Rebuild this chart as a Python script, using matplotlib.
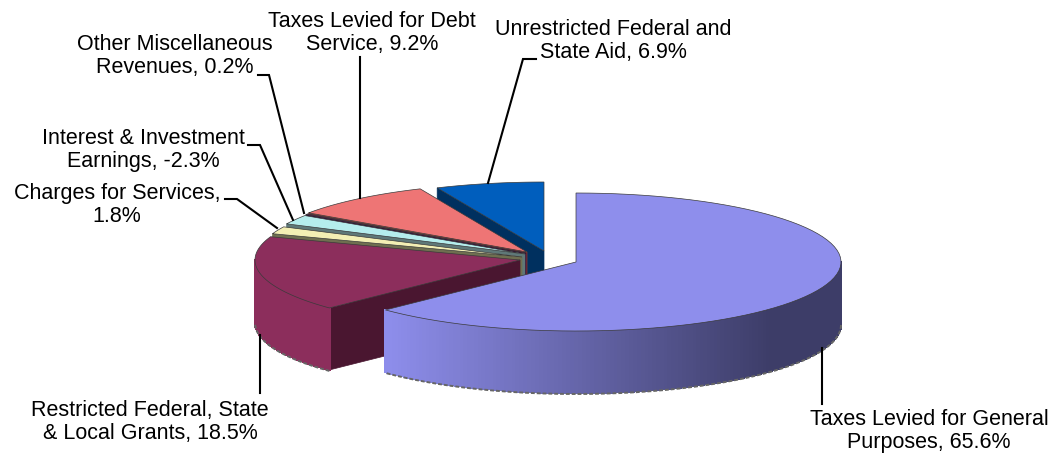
import matplotlib
matplotlib.use("Agg")
import matplotlib.pyplot as plt
import numpy as np
from matplotlib.colors import to_rgb

plt.rcParams["font.family"] = ["Liberation Sans", "DejaVu Sans"]

# chart data, clockwise from 12 o'clock
CATEGORIES = [
    "Taxes Levied for General\nPurposes",
    "Restricted Federal, State\n& Local Grants",
    "Charges for Services,\n",
    "Interest & Investment\nEarnings",
    "Other Miscellaneous\nRevenues",
    "Taxes Levied for Debt\nService",
    "Unrestricted Federal and\nState Aid",
]
VALUES = [65.6, 18.5, 1.8, -2.3, 0.2, 9.2, 6.9]

# styling per slice
TOP_COLORS = ["#8E8EEC", "#8C2E5C", "#F3EFB4", "#B5EDED", "#5A0A5A", "#EE7575", "#005EBD"]
WALL_COLORS = ["#3D3D68", "#4A1630", "#6F6F50", "#5F7878", "#300030", "#8A3A30", "#00305F"]
APEX_X = [576, 520, 522, 525, 526, 527, 544]
APEX_Y = [262, 260, 257, 254, 253, 252, 251]
LABEL_X = [929, 150, 117, 143, 175, 372, 613]
LABEL_Y = [431, 422, 205, 150, 56, 33, 41]
LEADERS = [
    [(822, 348), (822, 404)],
    [(260, 335), (260, 393)],
    [(225, 199), (237, 199), (277, 228)],
    [(248, 145), (260, 145), (293, 220)],
    [(258, 75), (269, 75), (304, 213)],
    [(360, 57), (360, 198)],
    [(488, 183), (523, 59), (536, 59)],
]

RX = 265
RY = 69
DEPTH = 62


def ellipse_pts(cx, cy, start, stop, n=80):
    # angles in degrees, clockwise from the top of the pie
    a = np.radians(np.linspace(start, stop, n))
    return cx + RX * np.sin(a), cy - RY * np.cos(a)


def idx_z(idx):
    # painter's order: back slices first, main slice last
    return 10 + (len(VALUES) - idx) * 2


def draw_outer_wall(ax, cx, cy, start, stop, idx):
    # only the front half of the rim can be seen
    lo, hi = max(start, 90), min(stop, 270)
    if lo >= hi:
        return
    x, y = ellipse_pts(cx, cy, lo, hi, 160)
    light = np.array(to_rgb(TOP_COLORS[0]))
    dark = np.array(to_rgb(WALL_COLORS[0]))
    for i in range(len(x) - 1):
        if idx == 0:
            t = min(max((x[i] - 385) / 385, 0), 1)
            color = light + (dark - light) * t
        else:
            color = TOP_COLORS[idx]
        ax.fill([x[i], x[i + 1], x[i + 1], x[i]],
                [y[i], y[i + 1], y[i + 1] + DEPTH, y[i] + DEPTH],
                color=color, lw=1, antialiased=False, zorder=idx_z(idx))
    ax.plot(x, y + DEPTH + 1, color="#666666", lw=1.4, dashes=(2, 1), zorder=idx_z(idx))


fig = plt.figure(figsize=(10.56, 4.55), dpi=100)
ax = fig.add_axes([0, 0, 1, 1])
ax.set_xlim(0, 1056)
ax.set_ylim(455, 0)
ax.axis("off")

sizes = np.abs(VALUES)
angles = np.concatenate([[0], np.cumsum(sizes) / sizes.sum() * 360])

for i in range(len(VALUES)):
    cx, cy = APEX_X[i], APEX_Y[i]
    start, stop = angles[i], angles[i + 1]
    z = idx_z(i)

    # radial wall on the leading side
    ex, ey = ellipse_pts(cx, cy, start, start, 1)
    ax.fill([cx, ex[0], ex[0], cx], [cy, ey[0], ey[0] + DEPTH, cy + DEPTH],
            color=WALL_COLORS[i], lw=0.5, zorder=z)
    draw_outer_wall(ax, cx, cy, start, stop, i)

    # top face
    x, y = ellipse_pts(cx, cy, start, stop)
    ax.fill(np.r_[cx, x], np.r_[cy, y], facecolor=TOP_COLORS[i],
            edgecolor="#3A3A3A", lw=0.5, zorder=z + 1)

for i, pts in enumerate(LEADERS):
    xs, ys = zip(*pts)
    ax.plot(xs, ys, color="black", lw=1.5, zorder=40, solid_joinstyle="miter")

for i, name in enumerate(CATEGORIES):
    if name.endswith("\n"):
        text = f"{name}{VALUES[i]}%"
    else:
        text = f"{name}, {VALUES[i]}%"
    ax.text(LABEL_X[i], LABEL_Y[i], text, ha="center", va="center",
            fontsize=15.5, linespacing=1.14, color="black", zorder=50)

fig.savefig("out.png", dpi=100)
